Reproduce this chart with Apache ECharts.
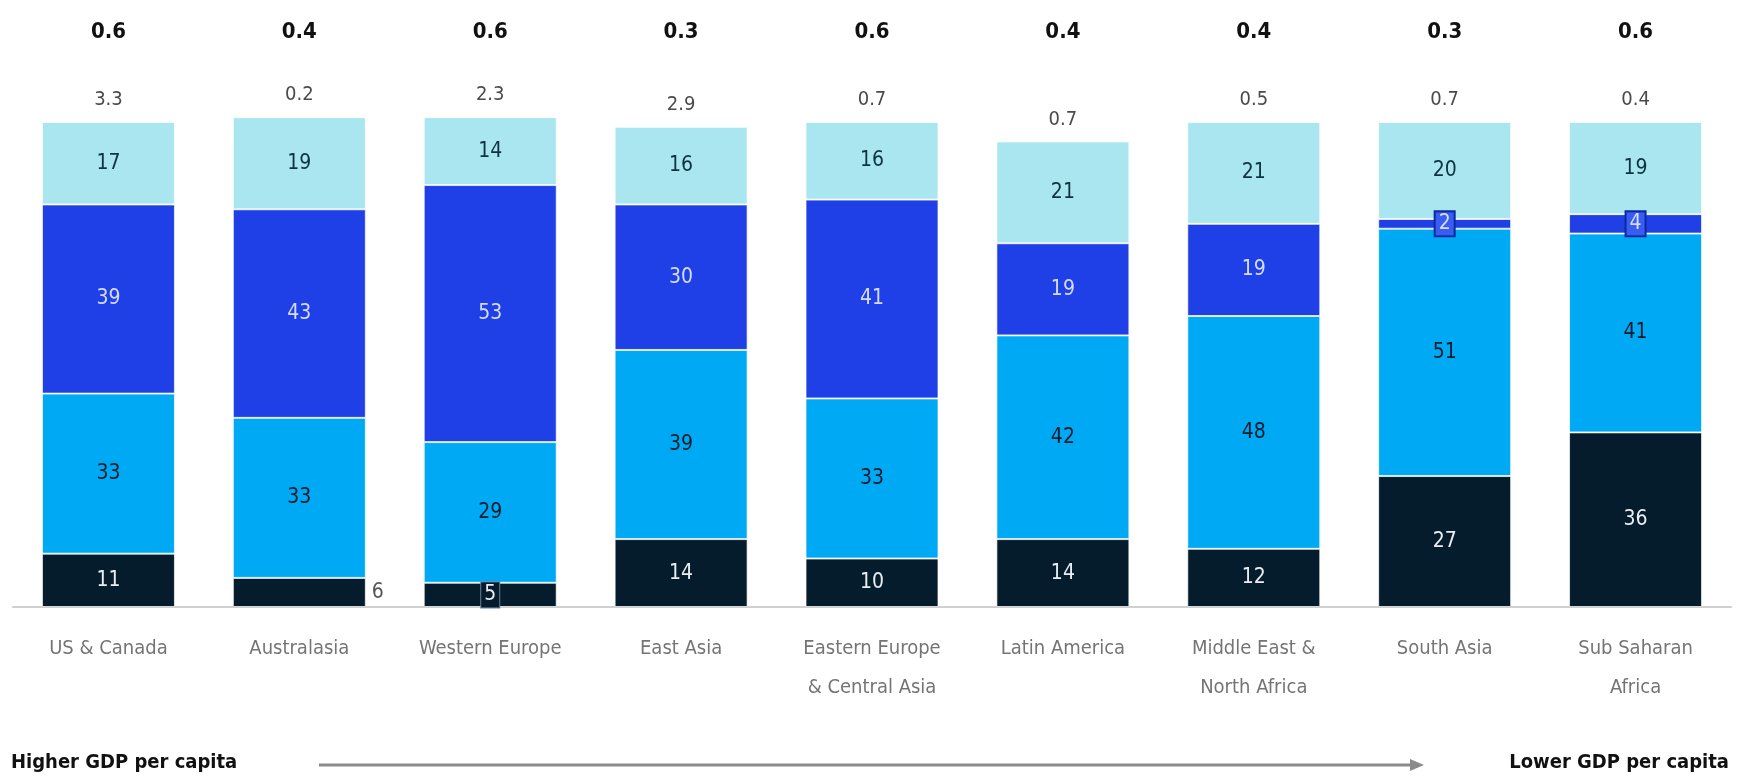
<!DOCTYPE html>
<html lang="en">
<head>
    <meta charset="UTF-8">
    <title>GDP per capita regions</title>
    <script src="https://cdn.jsdelivr.net/npm/echarts@6/dist/echarts.min.js"></script>
    <style>
        html, body { margin: 0; padding: 0; background: #fff; }
        #main { width: 1738px; height: 783px; }
    </style>
</head>
<body>
<div id="main"></div>

<script>
    // regions, from higher to lower GDP per capita
    var categories = ['US & Canada', 'Australasia', 'Western Europe', 'East Asia', 'Eastern Europe\n& Central Asia',
        'Latin America', 'Middle East &\nNorth Africa', 'South Asia', 'Sub Saharan\nAfrica'];

    // stacked shares, bottom to top
    var navyVals = [11, 6, 5, 14, 10, 14, 12, 27, 36];
    var cyanVals = [33, 33, 29, 39, 33, 42, 48, 51, 41];
    var blueVals = [39, 43, 53, 30, 41, 19, 19, 2, 4];
    var aquaVals = [17, 19, 14, 16, 16, 21, 21, 20, 19];

    // small numbers written above each bar
    var greyLabels = ['3.3', '0.2', '2.3', '2.9', '0.7', '0.7', '0.5', '0.7', '0.4'];
    var boldLabels = ['0.6', '0.4', '0.6', '0.3', '0.6', '0.4', '0.4', '0.3', '0.6'];

    var FONT = "'Liberation Sans Narrow', 'DejaVu Sans Condensed', 'Roboto Condensed', 'Liberation Sans', sans-serif";

    var NAVY = '#051c2c', CYAN = '#00a9f4', BLUE = '#1f40e6', AQUA = '#aae6f0';

    function segLabel(color) {
        return {show: true, position: 'inside', color: color, fontSize: 21, fontFamily: FONT};
    }

    // thin segments get their label moved or boxed
    var navyData = navyVals.map(function (v, i) {
        if (i === 1) {
            return {value: v, label: {position: 'right', distance: 6, color: '#555'}};
        }
        if (i === 2) {
            return {value: v, label: {backgroundColor: NAVY, borderColor: '#6a7f8f', borderWidth: 1, padding: [2, 3]}};
        }
        return v;
    });
    var blueData = blueVals.map(function (v, i) {
        if (v < 5) {
            return {value: v, label: {backgroundColor: '#3a5cf0', borderColor: '#0b2a9e', borderWidth: 2, padding: [1, 3]}};
        }
        return v;
    });

    var barW = 133;
    var border = {borderColor: 'rgba(255,255,255,0.7)', borderWidth: 1};

    var option = {
        animation: false,
        textStyle: {fontFamily: FONT},
        grid: {left: 13, right: 7, top: 122, bottom: 176},
        xAxis: [
            {
                type: 'category',
                data: categories,
                axisLine: {show: true, lineStyle: {color: '#d0d0d0', width: 2}},
                axisTick: {show: false},
                axisLabel: {
                    interval: 0, color: '#747474', fontSize: 20, lineHeight: 39,
                    margin: 22, fontFamily: FONT
                }
            },
            {
                type: 'category',
                data: boldLabels,
                position: 'top',
                axisLine: {show: false},
                axisTick: {show: false},
                axisLabel: {
                    interval: 0, color: '#111', fontSize: 22, fontWeight: 'bold',
                    margin: 79, fontFamily: FONT
                }
            }
        ],
        yAxis: {type: 'value', min: 0, max: 100, show: false, splitLine: {show: false}},
        series: [
            {
                name: 'navy', type: 'bar', stack: 'all', barWidth: barW, clip: false,
                itemStyle: Object.assign({color: NAVY}, border),
                label: segLabel('#e8eef3'),
                data: navyData
            },
            {
                name: 'cyan', type: 'bar', stack: 'all', barWidth: barW, clip: false,
                itemStyle: Object.assign({color: CYAN}, border),
                label: segLabel(NAVY),
                data: cyanVals
            },
            {
                name: 'blue', type: 'bar', stack: 'all', barWidth: barW, clip: false,
                itemStyle: Object.assign({color: BLUE}, border),
                label: segLabel('#d5dcff'),
                data: blueData
            },
            {
                name: 'aqua', type: 'bar', stack: 'all', barWidth: barW, clip: false,
                itemStyle: Object.assign({color: AQUA}, border),
                label: segLabel('#0d3340'),
                data: aquaVals
            },
            {
                // zero-height cap carrying the grey number above the stack
                name: 'other', type: 'bar', stack: 'all', barWidth: barW, clip: false,
                itemStyle: {color: 'transparent'},
                label: {
                    show: true, position: 'top', distance: 12, color: '#4a4a4a', fontSize: 20, fontFamily: FONT,
                    formatter: function (p) { return greyLabels[p.dataIndex]; }
                },
                data: greyLabels.map(function () { return 0; })
            }
        ],
        graphic: [
            {
                type: 'text', left: 11, top: 753,
                style: {text: 'Higher GDP per capita', fill: '#111', font: 'bold 20px ' + FONT}
            },
            {
                type: 'text', right: 9, top: 753,
                style: {text: 'Lower GDP per capita', fill: '#111', font: 'bold 20px ' + FONT}
            },
            {
                type: 'line',
                shape: {x1: 319, y1: 765, x2: 1412, y2: 765},
                style: {stroke: '#8a8a8a', lineWidth: 3}
            },
            {
                type: 'polygon',
                shape: {points: [[1410, 759], [1424, 765], [1410, 771]]},
                style: {fill: '#8a8a8a'}
            }
        ]
    };

    var myChart = echarts.init(document.getElementById('main'));
    myChart.setOption(option);
</script>
</body>
</html>
